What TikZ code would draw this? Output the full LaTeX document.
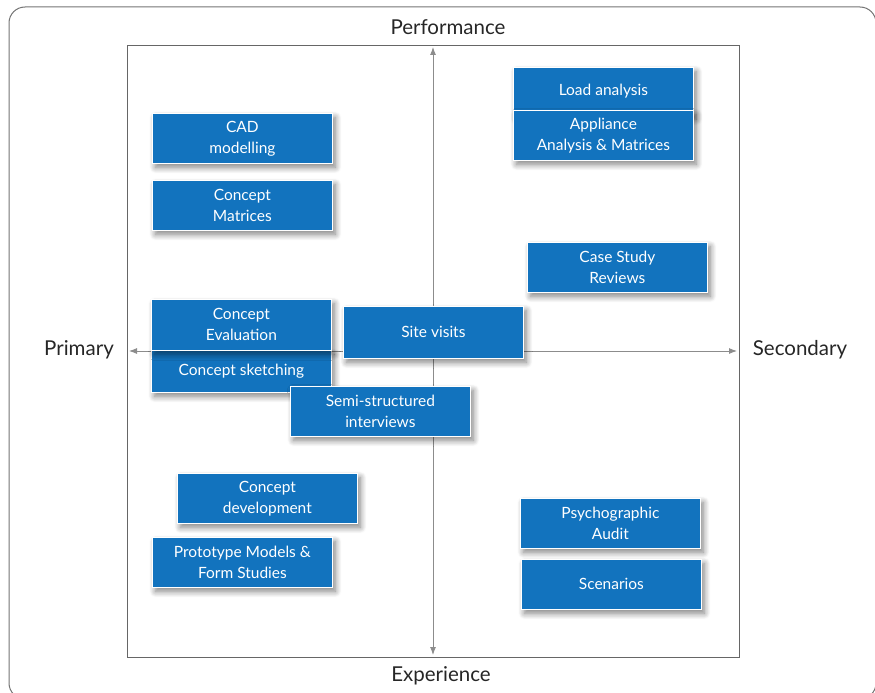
\documentclass[tikz,border=0pt]{standalone}
\usepackage{fontspec}
\setmainfont{Lato}
\usetikzlibrary{shadows.blur,arrows.meta}
\definecolor{boxblue}{HTML}{1273BE}
\definecolor{axisgray}{HTML}{8C8C8C}
\begin{document}
\begin{tikzpicture}[x=1pt,y=-1pt,
  qbox/.style={fill=boxblue,draw=white,line width=0.8pt,text=white,align=center,
    blur shadow={shadow blur steps=10,shadow blur radius=6pt,shadow xshift=3pt,shadow yshift=-4pt,shadow opacity=50},
    font=\fontsize{15.5}{21}\selectfont,inner sep=0pt},
  axlabel/.style={font=\fontsize{20.5}{24}\selectfont,text=black!85},
  axis/.style={draw=axisgray,line width=0.9pt,-{Latex[length=8pt,width=6pt]}}]
\useasboundingbox (0,0) rectangle (875,693);
\draw[draw=black!55,line width=1pt,rounded corners=16pt] (9,7) rectangle (876,699);
\draw[draw=black!60,line width=0.9pt] (127,45) rectangle (739,657);
\coordinate (top) at (433,47);
\coordinate (bot) at (433,655);
\coordinate (lft) at (129,351);
\coordinate (rgt) at (737,351);
\coordinate (ctr) at (433,351);
\draw[axis] (ctr) -- (top);
\draw[axis] (ctr) -- (bot);
\draw[axis] (ctr) -- (lft);
\draw[axis] (ctr) -- (rgt);
\node[axlabel] (perf) at (448,27) {Performance};
\node[axlabel] (exp) at (441,676) {Experience};
\node[axlabel] (prim) at (79,350) {Primary};
\node[axlabel] (sec) at (800,350) {Secondary};
\newcommand{\qb}[6]{\node[qbox,minimum width=#4pt,minimum height=#5pt,anchor=north west] (#1) at (#2,#3) {#6};}
\qb{load}{513}{67}{180}{48}{Load analysis}
\qb{appl}{513}{110}{180}{50}{Appliance\\Analysis \& Matrices}
\qb{cad}{152}{113}{180}{50}{CAD\\modelling}
\qb{cmat}{152}{180}{180}{50}{Concept\\Matrices}
\qb{case}{527}{242}{180}{50}{Case Study\\Reviews}
\qb{sketch}{151}{350}{180}{42}{Concept sketching}
\qb{eval}{151}{299}{180}{51}{Concept\\Evaluation}
\qb{site}{343}{306}{180}{52}{Site visits}
\qb{semi}{290}{386}{180}{50}{Semi-structured\\interviews}
\qb{cdev}{177}{473}{180}{50}{Concept\\development}
\qb{proto}{152}{537}{180}{50}{Prototype Models \&\\Form Studies}
\qb{psych}{520}{498}{180}{50}{Psychographic\\Audit}
\qb{scen}{521}{559}{180}{50}{Scenarios}
\end{tikzpicture}
\end{document}
